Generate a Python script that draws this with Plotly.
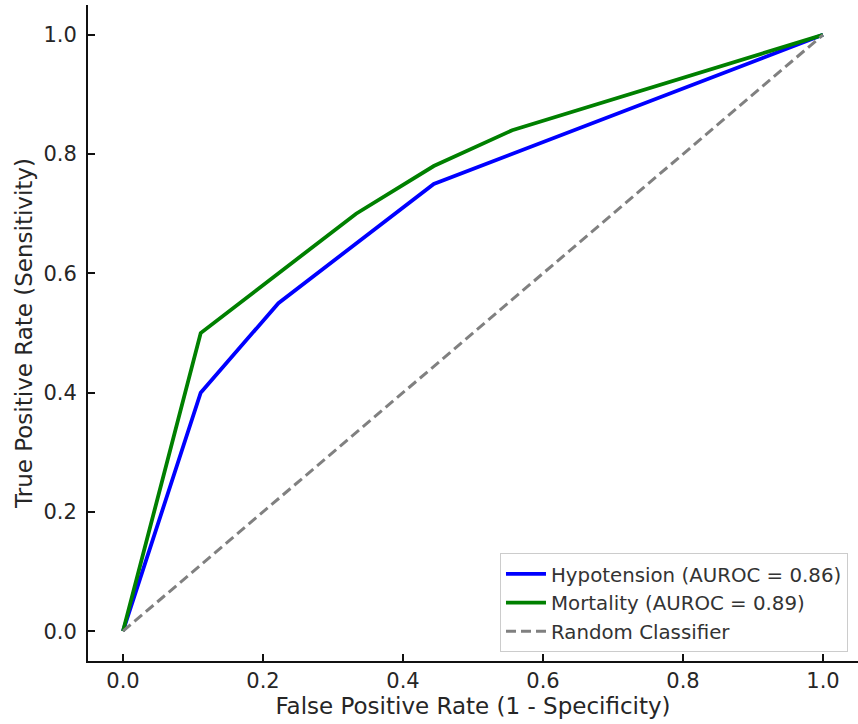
import plotly.graph_objects as go

hypo_fpr = [0.0, 0.111, 0.222, 0.444, 1.0]
hypo_tpr = [0.0, 0.40, 0.55, 0.75, 1.0]
mort_fpr = [0.0, 0.111, 0.333, 0.444, 0.556, 1.0]
mort_tpr = [0.0, 0.50, 0.70, 0.78, 0.84, 1.0]
rand_x = [0.0, 1.0]
rand_y = [0.0, 1.0]
labels = ["Hypotension (AUROC = 0.86)", "Mortality (AUROC = 0.89)", "Random Classifier"]
ticks = [0.0, 0.2, 0.4, 0.6, 0.8, 1.0]
tick_text = ["0.0", "0.2", "0.4", "0.6", "0.8", "1.0"]

fig = go.Figure()
fig.add_trace(go.Scatter(x=hypo_fpr, y=hypo_tpr, mode="lines", name=labels[0],
                         line=dict(color="#0000ff", width=3.8)))
fig.add_trace(go.Scatter(x=mort_fpr, y=mort_tpr, mode="lines", name=labels[1],
                         line=dict(color="#008000", width=3.8)))
fig.add_trace(go.Scatter(x=rand_x, y=rand_y, mode="lines", name=labels[2],
                         line=dict(color="#808080", width=3, dash="10px,5px")))

axis_common = dict(showgrid=False, zeroline=False, showline=True, linecolor="#111", linewidth=2,
                   ticks="inside", ticklen=7, tickwidth=1.5, tickcolor="#111",
                   tickvals=ticks, ticktext=tick_text, tickfont=dict(size=21, color="#262626"),
                   mirror=False, automargin=False)
fig.update_xaxes(range=[-0.05, 1.05], title=dict(text="False Positive Rate (1 - Specificity)",
                 font=dict(size=23, color="#262626"), standoff=4), **axis_common)
fig.update_yaxes(range=[-0.05, 1.05], ticklabelstandoff=5,
                 title=dict(text="True Positive Rate (Sensitivity)",
                 font=dict(size=23, color="#262626"), standoff=4), **axis_common)

fig.update_layout(
    width=858, height=724,
    margin=dict(l=88, r=0, t=5, b=63),
    plot_bgcolor="white", paper_bgcolor="white",
    font=dict(family="DejaVu Sans", color="#262626"),
    showlegend=True,
    legend=dict(x=0.987, y=0.013, xanchor="right", yanchor="bottom",
                bgcolor="rgba(255,255,255,0.8)", bordercolor="#cccccc", borderwidth=1,
                font=dict(size=19.8, color="#333"), itemwidth=40, tracegroupgap=0),
)

fig.write_html("out.html", post_script="document.body.style.margin='0';",
               config={"displayModeBar": False})
